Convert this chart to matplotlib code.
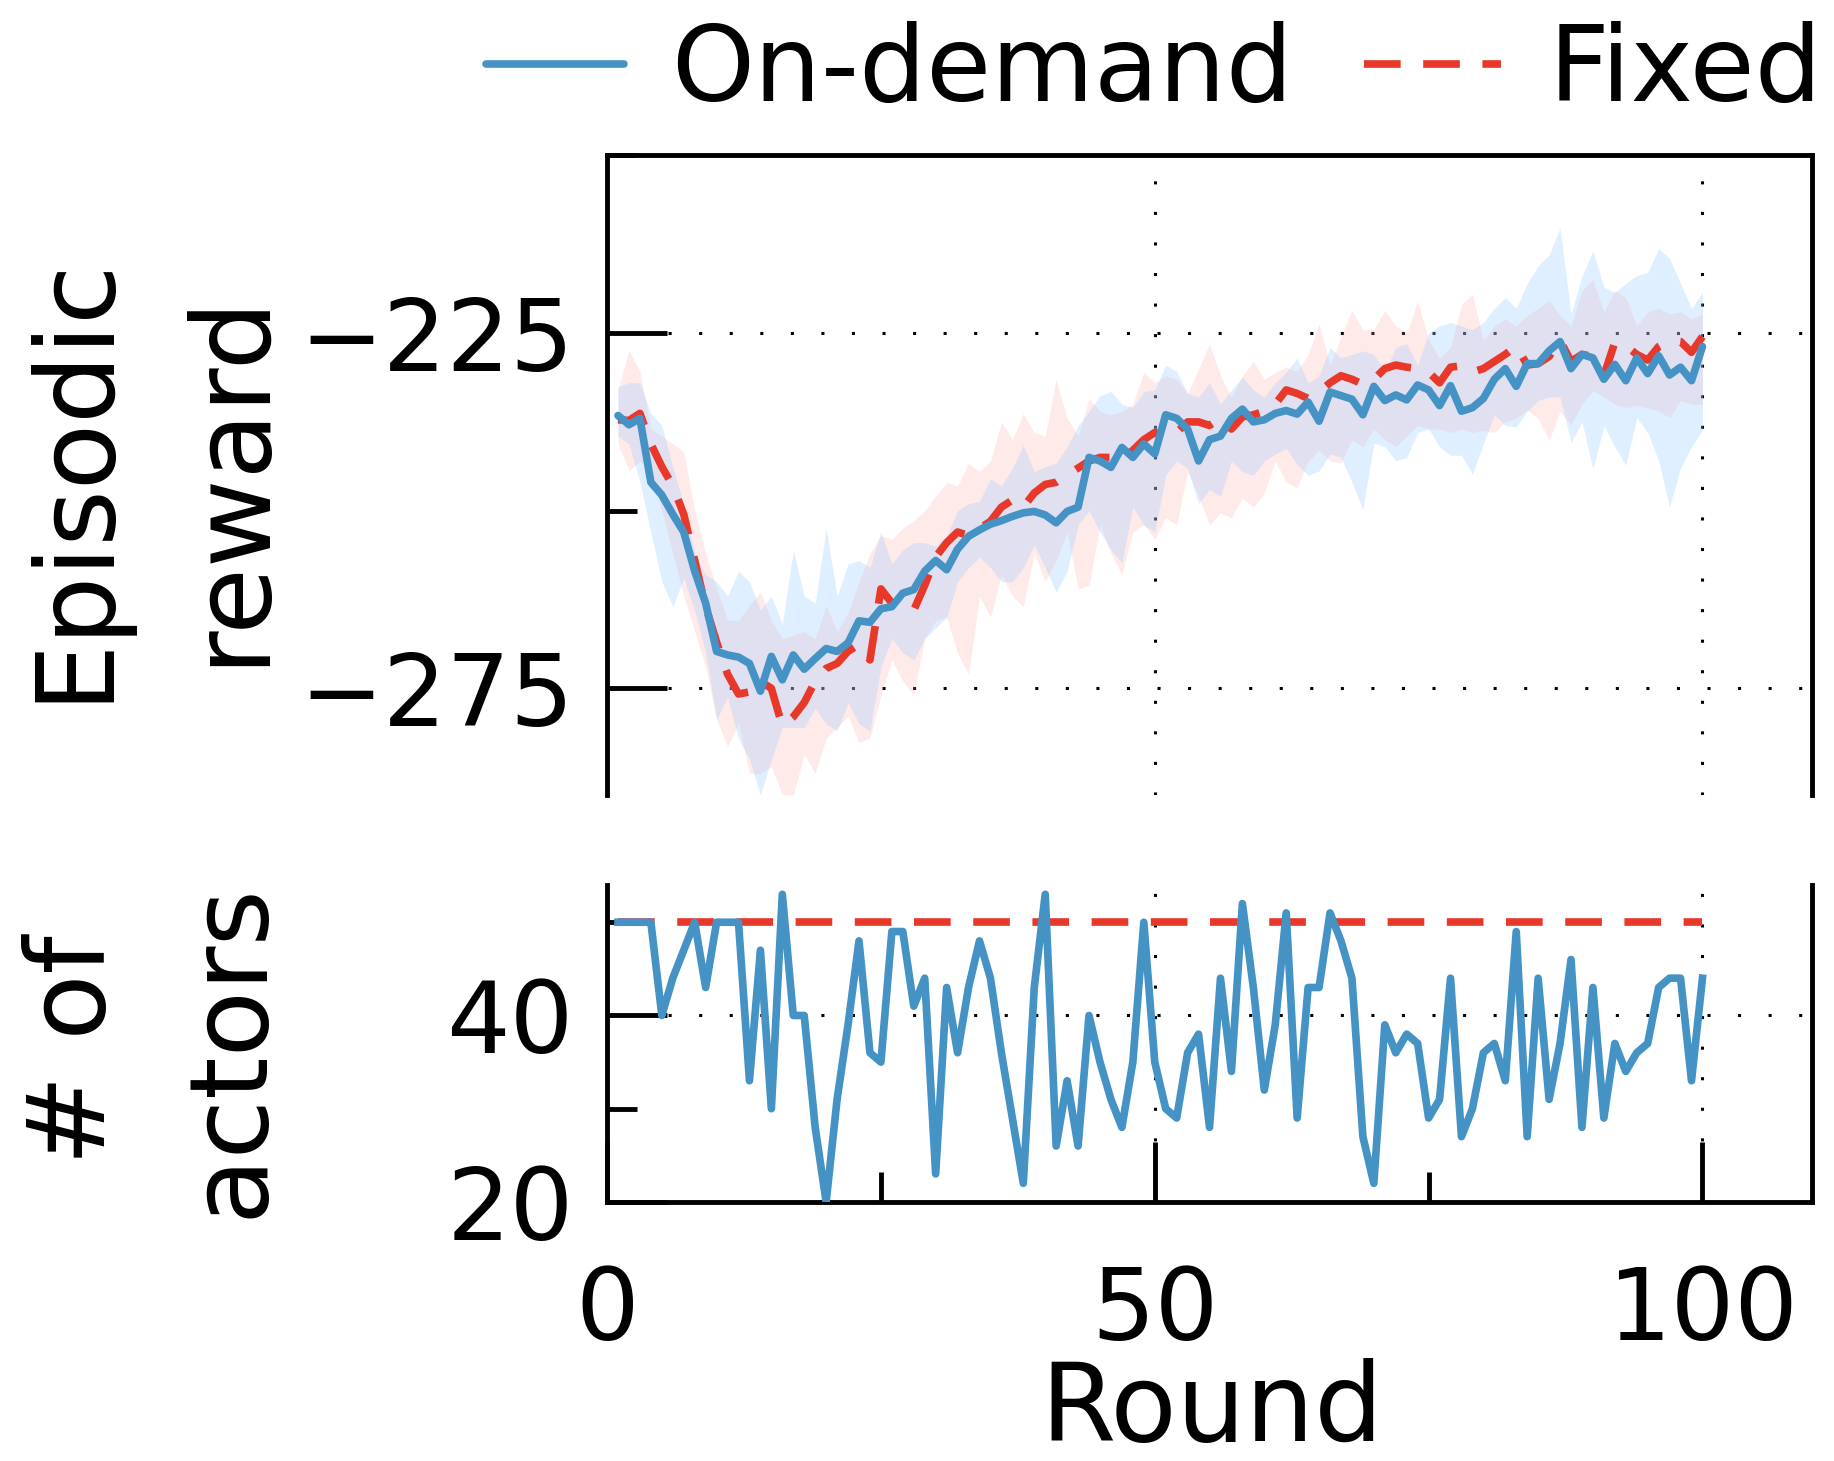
import numpy as np
import matplotlib.pyplot as plt
from matplotlib.ticker import FixedLocator, MultipleLocator

# training rounds
rounds = np.arange(1, 101)

# episodic reward, mean curves
ondemand_reward = [
    -236.6, -237.9, -237.0, -246.0, -247.8, -250.5, -253.0, -258.5, -263.0, -269.8,
    -270.3, -270.6, -271.5, -275.4, -270.5, -273.8, -270.3, -272.3, -270.8, -269.4,
    -269.8, -268.6, -265.5, -265.7, -263.8, -263.5, -261.6, -261.1, -258.5, -257.0,
    -258.3, -255.4, -253.6, -252.7, -251.9, -251.4, -250.8, -250.3, -250.1, -250.6,
    -251.7, -250.1, -249.5, -242.5, -243.0, -243.9, -241.1, -242.5, -240.6, -242.0,
    -236.5, -237.0, -238.5, -243.0, -240.0, -239.5, -237.0, -235.7, -237.5, -237.2,
    -236.3, -235.9, -236.4, -234.7, -237.4, -233.3, -233.8, -234.3, -236.5, -232.5,
    -234.5, -233.7, -234.4, -232.3, -233.0, -235.2, -232.4, -236.0, -235.5, -234.2,
    -231.5, -230.0, -232.5, -229.3, -229.3, -227.5, -226.2, -230.0, -228.0, -228.5,
    -231.5, -229.4, -231.7, -228.5, -230.7, -228.2, -230.9, -229.8, -231.7, -226.9]
fixed_reward = [
    -237.2, -237.3, -236.3, -240.6, -243.8, -246.5, -250.5, -257.0, -263.5, -268.5,
    -273.0, -275.8, -275.5, -274.0, -275.0, -280.3, -279.0, -277.0, -274.0, -272.2,
    -271.5, -269.8, -268.8, -271.0, -261.0, -263.0, -264.0, -264.0, -260.5, -256.5,
    -254.5, -253.0, -253.5, -252.5, -251.5, -249.5, -248.5, -249.5, -247.5, -246.3,
    -246.0, -245.0, -244.0, -243.0, -242.5, -242.5, -242.8, -241.5, -240.0, -239.0,
    -239.3, -239.0, -237.5, -237.5, -238.0, -237.0, -238.5, -236.8, -236.5, -236.0,
    -235.0, -233.0, -233.5, -234.2, -233.3, -232.0, -231.0, -231.5, -232.2, -231.5,
    -230.0, -229.5, -229.8, -230.0, -230.5, -232.0, -229.8, -229.6, -230.5, -230.0,
    -229.0, -228.0, -226.8, -229.5, -229.3, -228.3, -226.0, -229.0, -228.0, -228.3,
    -231.0, -226.3, -226.8, -228.0, -228.8, -226.9, -226.0, -226.2, -227.7, -225.5]

# shaded spread, upper / lower edges
ondemand_hi = [
    -232.5, -232.0, -232.0, -236.3, -238.0, -243.9, -249.0, -256.0, -259.0, -260.0,
    -262.0, -258.5, -260.0, -264.0, -262.0, -266.0, -255.5, -262.0, -263.0, -252.5,
    -262.0, -257.5, -257.0, -258.0, -253.0, -257.5, -255.5, -254.5, -254.5, -255.0,
    -253.5, -250.0, -249.0, -248.7, -245.5, -246.5, -244.0, -240.8, -244.5, -243.8,
    -243.3, -241.0, -238.0, -236.0, -233.8, -233.2, -235.0, -235.5, -233.2, -233.0,
    -229.5, -230.4, -233.5, -234.0, -232.0, -235.0, -233.0, -231.2, -233.0, -234.0,
    -232.0, -230.5, -228.5, -232.0, -231.0, -227.0, -228.5, -228.0, -227.5, -228.0,
    -230.5, -227.0, -226.5, -229.5, -225.0, -224.0, -223.5, -224.0, -224.5, -223.5,
    -221.5, -220.0, -221.5, -218.0, -215.5, -214.0, -210.2, -222.3, -217.0, -213.4,
    -218.5, -219.3, -218.0, -216.9, -216.5, -213.1, -214.5, -218.0, -221.5, -219.3]
ondemand_lo = [
    -239.5, -240.6, -246.0, -253.0, -260.0, -263.5, -259.5, -264.0, -270.0, -279.4,
    -276.2, -282.1, -285.0, -290.0, -285.0, -280.5, -280.5, -280.5, -277.8, -280.0,
    -281.0, -277.0, -280.0, -281.0, -272.0, -268.0, -270.0, -271.0, -268.0, -266.5,
    -265.0, -260.0, -258.0, -256.5, -258.0, -260.0, -260.0, -258.0, -254.8, -258.0,
    -261.5, -258.5, -252.0, -250.0, -253.0, -255.5, -257.3, -249.5, -252.0, -253.0,
    -245.0, -243.0, -244.0, -249.0, -247.0, -248.0, -243.0, -244.5, -245.0, -243.0,
    -242.0, -241.2, -243.5, -245.0, -244.4, -242.0, -242.5, -246.0, -249.8, -240.5,
    -241.0, -243.0, -242.5, -239.0, -238.5, -241.0, -242.2, -242.2, -244.9, -240.6,
    -236.5, -238.0, -238.2, -236.0, -234.5, -234.0, -234.0, -240.4, -237.5, -244.1,
    -238.0, -241.0, -243.6, -236.9, -239.0, -243.0, -249.5, -244.0, -241.0, -238.7]
fixed_hi = [
    -233.0, -227.4, -230.4, -238.5, -239.5, -240.6, -241.7, -250.0, -256.0, -261.0,
    -265.4, -265.4, -263.3, -261.4, -265.4, -268.0, -267.5, -267.0, -268.0, -263.3,
    -267.0, -264.3, -260.0, -256.0, -253.5, -254.0, -252.5, -251.4, -250.0, -248.0,
    -246.0, -246.5, -243.3, -244.5, -243.0, -237.5, -240.0, -236.3, -239.0, -239.5,
    -231.5, -237.0, -239.5, -234.2, -236.0, -236.5, -236.0, -235.0, -230.5, -232.0,
    -231.0, -231.5, -233.5, -230.0, -226.5, -231.0, -234.0, -231.0, -229.0, -231.5,
    -230.5, -229.8, -230.4, -228.0, -223.7, -229.5, -225.5, -221.8, -224.5, -224.5,
    -221.8, -224.0, -225.0, -220.5, -226.0, -228.5, -227.0, -221.0, -219.5, -226.0,
    -224.0, -223.0, -224.0, -222.5, -221.5, -220.4, -222.5, -224.0, -219.0, -217.5,
    -222.0, -219.0, -220.0, -223.9, -222.0, -221.5, -222.3, -222.0, -223.0, -222.3]
fixed_lo = [
    -240.6, -244.4, -243.0, -245.0, -250.0, -256.0, -262.0, -267.0, -272.0, -279.4,
    -283.2, -280.0, -287.0, -287.0, -286.0, -290.0, -290.0, -284.3, -287.0, -282.0,
    -280.5, -278.9, -282.6, -282.0, -276.0, -271.0, -274.0, -276.0, -268.0, -265.5,
    -265.0, -270.0, -273.0, -262.0, -265.0, -259.0, -262.0, -263.5, -256.0, -260.0,
    -257.0, -253.0, -261.0, -260.5, -252.0, -256.0, -259.0, -253.0, -252.0, -254.0,
    -251.0, -252.0, -244.5, -248.0, -252.0, -250.3, -251.0, -248.2, -249.5, -247.5,
    -243.0, -246.0, -246.8, -243.0, -241.5, -243.0, -243.3, -240.0, -241.0, -238.5,
    -240.0, -241.0, -239.5, -238.0, -238.5, -238.5, -239.0, -238.5, -239.0, -238.7,
    -239.0, -237.5, -237.0, -235.8, -237.0, -240.1, -236.0, -237.9, -235.0, -233.1,
    -234.0, -235.0, -235.5, -235.2, -235.5, -236.0, -236.9, -234.5, -235.0, -235.0]

# number of actors per round
ondemand_actors = [
    50, 50, 50, 50, 40, 44, 47, 50, 43, 50,
    50, 50, 33, 47, 30, 53, 40, 40, 28, 20,
    31, 39, 48, 36, 35, 49, 49, 41, 44, 23,
    43, 36, 43, 48, 44, 36, 29, 22, 43, 53,
    26, 33, 26, 40, 35, 31, 28, 35, 50, 35,
    30, 29, 36, 38, 28, 44, 34, 52, 43, 32,
    39, 51, 29, 43, 43, 51, 48, 44, 27, 22,
    39, 36, 38, 37, 29, 31, 44, 27, 30, 36,
    37, 33, 49, 27, 44, 31, 37, 46, 28, 43,
    29, 37, 34, 36, 37, 43, 44, 44, 33, 44]
fixed_actors = [50] * 100

labels = ['On-demand', 'Fixed']
BLUE = '#4592c5'
RED = '#e8382a'
LW = 5.5
DASH = (4.8, 2.95)

plt.rcParams['font.family'] = ['DejaVu Sans']

fig = plt.figure(figsize=(18.34, 14.61), dpi=100)
ax1 = fig.add_axes([0.331, 0.4559, 0.657, 0.4377])
ax2 = fig.add_axes([0.331, 0.1773, 0.657, 0.2170])

# top panel: reward
ax1.fill_between(rounds, fixed_lo, fixed_hi, color='#ff9999', alpha=0.2, lw=0, zorder=2)
ax1.fill_between(rounds, ondemand_lo, ondemand_hi, color='#99ccff', alpha=0.3, lw=0, zorder=2)
l_fix, = ax1.plot(rounds, fixed_reward, color=RED, lw=LW, dashes=DASH,
                  dash_joinstyle='round', zorder=3)
l_od, = ax1.plot(rounds, ondemand_reward, color=BLUE, lw=LW,
                 solid_joinstyle='round', solid_capstyle='round', zorder=4)

# bottom panel: actors
ax2.plot(rounds, fixed_actors, color=RED, lw=LW, dashes=DASH, zorder=3)
ax2.plot(rounds, ondemand_actors, color=BLUE, lw=LW, zorder=4)

ax1.set_xlim(0, 110)
ax2.set_xlim(0, 110)
ax1.set_ylim(-290, -200)
ax2.set_ylim(20, 54)

ax1.yaxis.set_major_locator(FixedLocator([-275, -225]))
ax1.yaxis.set_minor_locator(MultipleLocator(25))
ax2.yaxis.set_major_locator(FixedLocator([20, 40]))
ax2.yaxis.set_minor_locator(MultipleLocator(10))
for ax in (ax1, ax2):
    ax.xaxis.set_major_locator(MultipleLocator(50))
    ax.xaxis.set_minor_locator(MultipleLocator(25))
    ax.set_axisbelow(True)
    ax.grid(True, which='major', color='black', linestyle=(0, (1, 9)), linewidth=2.2)
    for s in ax.spines.values():
        s.set_linewidth(3.5)
    ax.tick_params(which='major', direction='in', length=43, width=3.5, labelsize=72)
    ax.tick_params(which='minor', direction='in', length=21.5, width=3.5)
    ax.tick_params(axis='y', which='both', right=False, pad=24)

ax1.spines['bottom'].set_visible(False)
ax2.spines['top'].set_visible(False)
ax1.tick_params(axis='x', which='both', bottom=False, top=False, labelbottom=False)
ax2.tick_params(axis='x', which='both', top=False, pad=45)

fig.text(0.0834, 0.673, 'Episodic\nreward', rotation=90, ha='center', va='center',
         ma='center', fontsize=78, linespacing=1.61)
fig.text(0.0834, 0.281, '# of\nactors', rotation=90, ha='center', va='center',
         ma='center', fontsize=78, linespacing=1.61)
fig.text(0.661, 0.0135, 'Round', ha='center', va='baseline', fontsize=78)

fig.legend(handles=[l_od, l_fix], labels=labels, loc='center right',
           bbox_to_anchor=(0.9935, 0.951), ncol=2, frameon=False, fontsize=76,
           handlelength=1.3, handletextpad=0.45, columnspacing=0.67,
           borderpad=0, borderaxespad=0)

fig.savefig('out.png', dpi=100)
